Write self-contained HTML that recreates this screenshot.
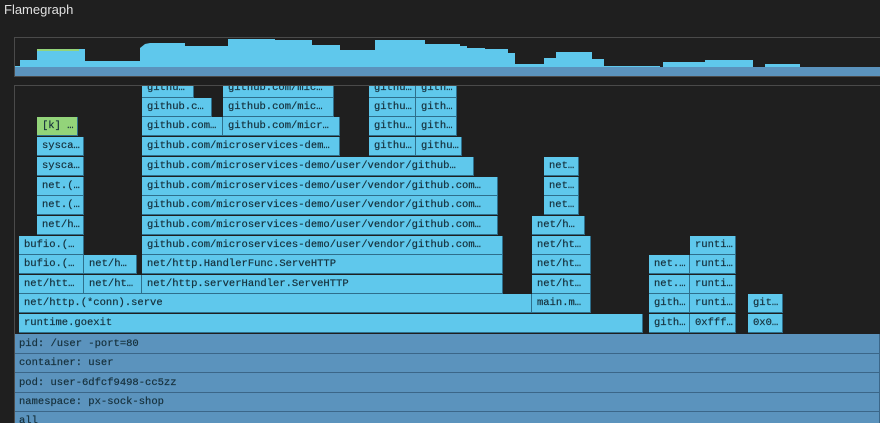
<!DOCTYPE html>
<html><head><meta charset="utf-8"><style>
*{margin:0;padding:0;box-sizing:border-box}
html,body{width:880px;height:423px;overflow:hidden}
body{background:#1f1f1f;position:relative;font-family:"Liberation Sans",sans-serif}
.t{position:absolute;left:4px;top:2px;color:#e0e0e0;font-size:13px}
.b{position:absolute;height:19px;background:#5fc8ec;border-right:1px solid #2e6f8c;border-bottom:1px solid #2e6f8c;font-family:"Liberation Mono",monospace;font-size:10.5px;color:#16303c;line-height:19px;padding-left:5px;white-space:nowrap;overflow:hidden;-webkit-text-stroke:0.2px #16303c}
.d{background:#5b93bd;border-color:#3b6688}
.g{background:#93d47a}
.frame{position:absolute;border:1px solid #4a4a4a}
</style></head><body>
<div class="t">Flamegraph</div>
<div class="frame" style="left:14px;top:37px;width:870px;height:40px;border-right:none"></div>
<svg style="position:absolute;left:0;top:0" width="880" height="80">
<polygon fill="#5fc8ec" points="15,67 15,66 20,66 20,60 37,60 37,49 85,49 85,61 140,61 140,48 145,44 150,43 185,43 185,46 228,46 228,39 275,39 275,40 312,40 312,45 340,45 340,50 375,50 375,40 425,40 425,44 460,44 460,46 467,46 467,48 485,48 485,49 508,49 508,53 515,53 515,64 544,64 544,58 556,58 556,52 592,52 592,59 604,59 604,66 660,66 660,68 663,68 663,62 705,62 705,60 753,60 753,68 765,68 765,64 800,64 800,67 880,67 880,68 15,68"/>
<rect x="37" y="49" width="42" height="2" fill="#93d47a"/>
<rect x="15" y="67" width="865" height="9" fill="#5b93bd"/>
</svg>
<div class="frame" style="left:14px;top:85px;width:870px;height:340px;border-right:none"></div>
<div style="position:absolute;left:15px;top:86px;width:865px;height:337px;overflow:hidden">
<div style="position:absolute;left:-15px;top:-86px;width:880px;height:423px">
<div class="b" style="left:142px;top:79px;width:52px">githu…</div>
<div class="b" style="left:223px;top:79px;width:111px">github.com/mic…</div>
<div class="b" style="left:369px;top:79px;width:47px">githu…</div>
<div class="b" style="left:416px;top:79px;width:41px">gith…</div>
<div class="b" style="left:142px;top:98px;width:70px">github.c…</div>
<div class="b" style="left:223px;top:98px;width:111px">github.com/mic…</div>
<div class="b" style="left:369px;top:98px;width:47px">githu…</div>
<div class="b" style="left:416px;top:98px;width:41px">gith…</div>
<div class="b g" style="left:37px;top:117px;width:41px">[k] …</div>
<div class="b" style="left:142px;top:117px;width:81px">github.com…</div>
<div class="b" style="left:223px;top:117px;width:117px">github.com/micr…</div>
<div class="b" style="left:369px;top:117px;width:47px">githu…</div>
<div class="b" style="left:416px;top:117px;width:41px">gith…</div>
<div class="b" style="left:37px;top:137px;width:47px">sysca…</div>
<div class="b" style="left:142px;top:137px;width:198px">github.com/microservices-dem…</div>
<div class="b" style="left:369px;top:137px;width:47px">githu…</div>
<div class="b" style="left:416px;top:137px;width:46px">githu…</div>
<div class="b" style="left:37px;top:157px;width:47px">sysca…</div>
<div class="b" style="left:142px;top:157px;width:332px">github.com/microservices-demo/user/vendor/github…</div>
<div class="b" style="left:544px;top:157px;width:35px">net…</div>
<div class="b" style="left:37px;top:177px;width:47px">net.(…</div>
<div class="b" style="left:142px;top:177px;width:356px">github.com/microservices-demo/user/vendor/github.com…</div>
<div class="b" style="left:544px;top:177px;width:35px">net…</div>
<div class="b" style="left:37px;top:196px;width:47px">net.(…</div>
<div class="b" style="left:142px;top:196px;width:356px">github.com/microservices-demo/user/vendor/github.com…</div>
<div class="b" style="left:544px;top:196px;width:35px">net…</div>
<div class="b" style="left:37px;top:216px;width:47px">net/h…</div>
<div class="b" style="left:142px;top:216px;width:356px">github.com/microservices-demo/user/vendor/github.com…</div>
<div class="b" style="left:532px;top:216px;width:53px">net/h…</div>
<div class="b" style="left:19px;top:236px;width:65px">bufio.(…</div>
<div class="b" style="left:142px;top:236px;width:361px">github.com/microservices-demo/user/vendor/github.com…</div>
<div class="b" style="left:532px;top:236px;width:59px">net/ht…</div>
<div class="b" style="left:690px;top:236px;width:46px">runti…</div>
<div class="b" style="left:19px;top:255px;width:65px">bufio.(…</div>
<div class="b" style="left:84px;top:255px;width:53px">net/h…</div>
<div class="b" style="left:142px;top:255px;width:361px">net/http.HandlerFunc.ServeHTTP</div>
<div class="b" style="left:532px;top:255px;width:59px">net/ht…</div>
<div class="b" style="left:649px;top:255px;width:41px">net.…</div>
<div class="b" style="left:690px;top:255px;width:46px">runti…</div>
<div class="b" style="left:19px;top:275px;width:65px">net/htt…</div>
<div class="b" style="left:84px;top:275px;width:58px">net/ht…</div>
<div class="b" style="left:142px;top:275px;width:361px">net/http.serverHandler.ServeHTTP</div>
<div class="b" style="left:532px;top:275px;width:59px">net/ht…</div>
<div class="b" style="left:649px;top:275px;width:41px">net.…</div>
<div class="b" style="left:690px;top:275px;width:46px">runti…</div>
<div class="b" style="left:19px;top:294px;width:513px">net/http.(*conn).serve</div>
<div class="b" style="left:532px;top:294px;width:59px">main.m…</div>
<div class="b" style="left:649px;top:294px;width:41px">gith…</div>
<div class="b" style="left:690px;top:294px;width:46px">runti…</div>
<div class="b" style="left:748px;top:294px;width:35px">git…</div>
<div class="b" style="left:19px;top:314px;width:624px">runtime.goexit</div>
<div class="b" style="left:649px;top:314px;width:41px">gith…</div>
<div class="b" style="left:690px;top:314px;width:46px">0xfff…</div>
<div class="b" style="left:748px;top:314px;width:35px">0x0…</div>
<div class="b d" style="left:14px;top:334px;width:866px;height:20px;line-height:20px">pid: /user -port=80</div>
<div class="b d" style="left:14px;top:354px;width:866px;height:19px">container: user</div>
<div class="b d" style="left:14px;top:373px;width:866px;height:20px;line-height:20px">pod: user-6dfcf9498-cc5zz</div>
<div class="b d" style="left:14px;top:393px;width:866px;height:19px">namespace: px-sock-shop</div>
<div class="b d" style="left:14px;top:412px;width:866px;height:19px">all</div>
</div></div>
</body></html>
